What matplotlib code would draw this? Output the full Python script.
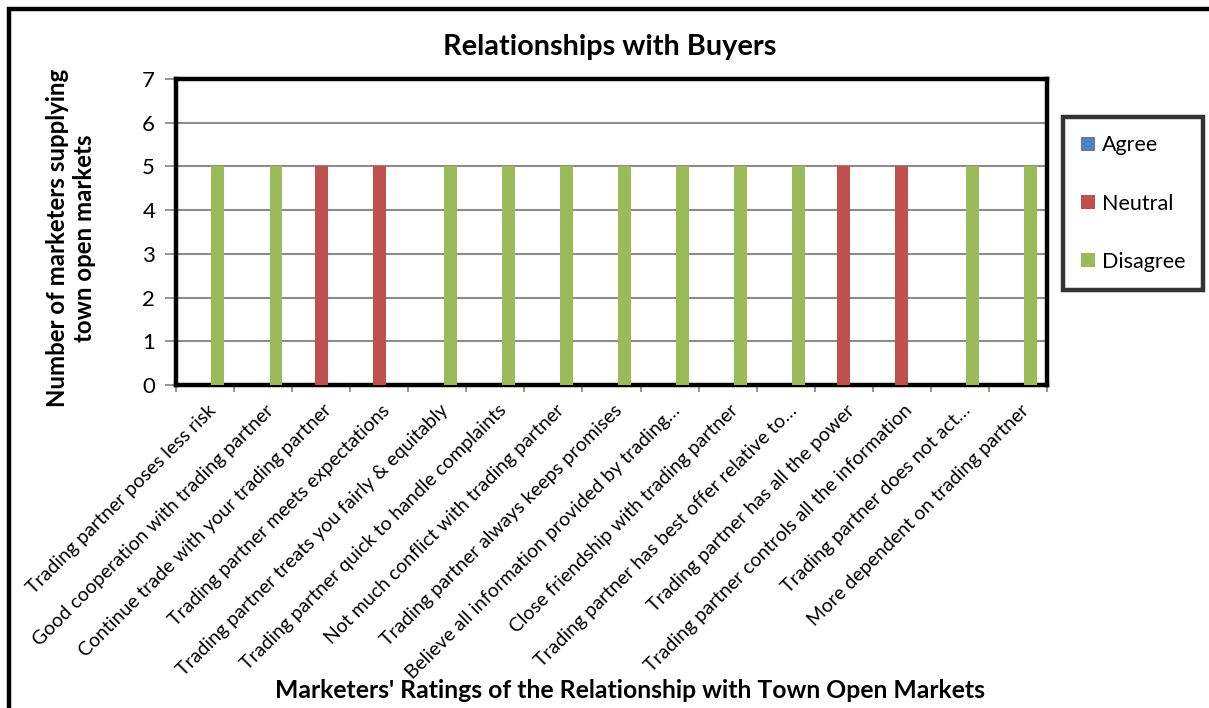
import matplotlib
matplotlib.use("Agg")
import matplotlib.pyplot as plt
import matplotlib.transforms as mtransforms
from matplotlib.patches import Rectangle, Patch
import numpy as np

plt.rcParams['font.family'] = ['Lato', 'DejaVu Sans']

categories = [
    "Trading partner poses less risk",
    "Good cooperation with trading partner",
    "Continue trade with your trading partner",
    "Trading partner meets expectations",
    "Trading partner treats you fairly & equitably",
    "Trading partner quick to handle complaints",
    "Not much conflict with trading partner",
    "Trading partner always keeps promises",
    "Believe all information provided by trading…",
    "Close friendship with trading partner",
    "Trading partner has best offer relative to…",
    "Trading partner has all the power",
    "Trading partner controls all the information",
    "Trading partner does not act…",
    "More dependent on trading partner",
]
agree = [0, 0, 0, 0, 0, 0, 0, 0, 0, 0, 0, 0, 0, 0, 0]
neutral = [0, 0, 5, 5, 0, 0, 0, 0, 0, 0, 0, 5, 5, 0, 0]
disagree = [5, 5, 0, 0, 5, 5, 5, 5, 5, 5, 5, 0, 0, 5, 5]
series_names = ["Agree", "Neutral", "Disagree"]
colors = ["#4F81BD", "#C0504D", "#9BBB59"]
yticks = [0, 1, 2, 3, 4, 5, 6, 7]

W, H = 1209, 708
fig = plt.figure(figsize=(W / 100, H / 100), dpi=100)

# outer chart border (extends past right/bottom edge)
fig.patches.append(Rectangle((8.5 / W, -0.1), 1.2, 1 - 8.5 / H + 0.1,
                             transform=fig.transFigure, fill=False,
                             edgecolor="black", linewidth=3.2, zorder=0))

left, right, top, bottom = 176, 1047, 79, 385
ax = fig.add_axes([left / W, 1 - bottom / H, (right - left) / W, (bottom - top) / H])

x = np.arange(len(categories))
bw = 1 / 4.5
for i, (vals, name, c) in enumerate(zip([agree, neutral, disagree], series_names, colors)):
    ax.bar(x + (i - 1) * bw, vals, width=bw, color=c, label=name, zorder=3)

ax.set_xlim(-0.5, len(categories) - 0.5)
ax.set_ylim(0, 7)
ax.set_yticks(yticks)
ax.set_yticklabels([str(v) for v in yticks], fontsize=16)
ax.yaxis.grid(True, color="#8C8C8C", linewidth=1.5, zorder=1)
ax.tick_params(axis="y", length=8, width=1.3, color="#8C8C8C", pad=7)

ax.set_xticks(x)
ax.set_xticklabels(categories, rotation=45, ha="right", va="top",
                   rotation_mode="anchor", fontsize=14.0)
ax.tick_params(axis="x", which="major", length=0, pad=12)
ax.set_xticks(np.arange(len(categories) + 1) - 0.5, minor=True)
ax.tick_params(axis="x", which="minor", length=5, width=1.3, color="#8C8C8C")
offset = mtransforms.ScaledTranslation(2 / 100, 0, fig.dpi_scale_trans)
for lab in ax.get_xticklabels():
    lab.set_transform(lab.get_transform() + offset)

for s in ax.spines.values():
    s.set_color("black")
    s.set_linewidth(3.2)

fig.text(610 / W, 1 - 47 / H, "Relationships with Buyers", ha="center", va="center",
         fontsize=20.8, fontweight="bold")
fig.text(71 / W, 1 - 238 / H, "Number of marketers supplying\ntown open markets",
         ha="center", va="center", rotation=90, fontsize=17.3, fontweight="bold",
         linespacing=1.2)
fig.text(630 / W, 1 - 690 / H, "Marketers' Ratings of the Relationship with Town Open Markets",
         ha="center", va="center", fontsize=17.8, fontweight="bold")

handles = [Patch(facecolor=c, edgecolor="none") for c in colors]
leg = fig.legend(handles, series_names, loc="upper left",
                 bbox_to_anchor=(1063 / W, 1 - 117 / H), bbox_transform=fig.transFigure,
                 fontsize=15.5, frameon=True, fancybox=False, handlelength=0.62,
                 handleheight=0.62, handletextpad=0.32, labelspacing=1.78,
                 borderpad=0.85, borderaxespad=0)
leg.get_frame().set_edgecolor("black")
leg.get_frame().set_linewidth(3.2)

fig.savefig("out.png", dpi=100)
